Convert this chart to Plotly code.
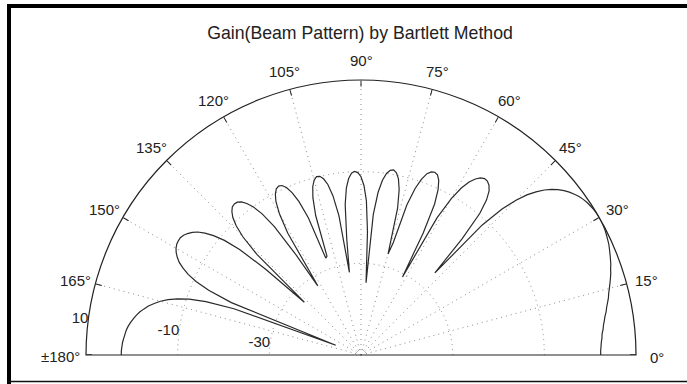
import math
import plotly.graph_objects as go

# Bartlett beam pattern, gain in dB, sampled every degree from 0 to 180
angle_deg = [
    0, 1, 2, 3, 4, 5, 6, 7, 8, 9,
    10, 11, 12, 13, 14, 15, 16, 17, 18, 19,
    20, 21, 22, 23, 24, 25, 26, 27, 28, 29,
    30, 31, 32, 33, 34, 35, 36, 37, 38, 39,
    40, 41, 42, 43, 44, 45, 46, 47, 48, 49,
    50, 51, 52, 53, 54, 55, 56, 57, 58, 59,
    60, 61, 62, 63, 64, 65, 66, 67, 68, 69,
    70, 71, 72, 73, 74, 75, 76, 77, 78, 79,
    80, 81, 82, 83, 84, 85, 86, 87, 88, 89,
    90, 91, 92, 93, 94, 95, 96, 97, 98, 99,
    100, 101, 102, 103, 104, 105, 106, 107, 108, 109,
    110, 111, 112, 113, 114, 115, 116, 117, 118, 119,
    120, 121, 122, 123, 124, 125, 126, 127, 128, 129,
    130, 131, 132, 133, 134, 135, 136, 137, 138, 139,
    140, 141, 142, 143, 144, 145, 146, 147, 148, 149,
    150, 151, 152, 153, 154, 155, 156, 157, 158, 159,
    160, 161, 162, 163, 164, 165, 166, 167, 168, 169,
    170, 171, 172, 173, 174, 175, 176, 177, 178, 179,
    180,
]

gain_db = [
    2.3, 2.3, 2.4, 2.5, 2.7, 2.8, 3.1, 3.3, 3.6, 3.9,
    4.3, 4.6, 5.0, 5.4, 5.7, 6.1, 6.5, 6.9, 7.3, 7.6,
    8.0, 8.3, 8.6, 8.9, 9.2, 9.4, 9.6, 9.8, 9.9, 10.0,
    10.0, 10.0, 9.9, 9.7, 9.5, 9.2, 8.8, 8.3, 7.7, 7.0,
    6.1, 5.1, 3.8, 2.2, 0.3, -2.3, -5.7, -11.2, -25.9, -16.4,
    -9.7, -6.5, -4.6, -3.6, -3.1, -3.0, -3.4, -4.2, -5.5, -7.5,
    -10.6, -15.8, -30.7, -20.1, -13.4, -10.2, -8.3, -7.3, -7.0, -7.2,
    -7.9, -9.4, -11.8, -15.8, -24.5, -27.2, -17.0, -13.0, -10.7, -9.5,
    -9.0, -9.2, -10.0, -11.6, -14.3, -19.2, -34.2, -23.0, -16.3, -13.0,
    -11.1, -10.2, -9.9, -10.3, -11.4, -13.4, -17.0, -24.5, -31.8, -19.2,
    -14.7, -12.1, -10.7, -10.0, -9.9, -10.5, -11.8, -14.1, -18.0, -27.2,
    -27.5, -18.0, -13.9, -11.5, -10.0, -9.2, -9.0, -9.3, -10.2, -11.7,
    -14.4, -19.0, -32.2, -23.6, -16.2, -12.4, -10.1, -8.6, -7.6, -7.1,
    -7.0, -7.2, -7.9, -9.0, -10.8, -13.6, -18.5, -33.1, -22.1, -14.9,
    -11.1, -8.6, -6.8, -5.4, -4.5, -3.8, -3.3, -3.0, -3.0, -3.1,
    -3.4, -3.9, -4.6, -5.5, -6.8, -8.4, -10.6, -13.9, -19.5, -44.1,
    -20.5, -14.2, -10.6, -8.1, -6.2, -4.7, -3.5, -2.4, -1.6, -0.8,
    -0.2, 0.3, 0.8, 1.2, 1.5, 1.7, 1.9, 2.1, 2.2, 2.3,
    2.3,
]

# angular ticks every 15 degrees
angle_ticks = [0, 15, 30, 45, 60, 75, 90, 105, 120, 135, 150, 165, 180]
angle_labels = ["0°", "15°", "30°", "45°", "60°", "75°", "90°",
                "105°", "120°", "135°", "150°", "165°", "±180°"]

# radial rings (dB)
radial_ticks = [-30, -10, 10]
radial_labels = ["-30", "-10", "10"]
radial_range = [-50, 10]

W, H = 687, 384
text_color = "#222222"
axis_color = "#222222"
grid_color = "#8a8a8a"
font_family = "Liberation Sans, Arial, sans-serif"

# polar disk: centre at (361, 355) px, radius 275 px
cx, cy, R = 361, 355, 275
r_min, r_max = radial_range
db_per_px = (r_max - r_min) / R
tick_r = r_max - 6 * db_per_px               # inside tick length 6 px
label_gap = 21                               # angle labels sit this far outside the rim
label_drop = 2                               # and this far lower
ring_label_angle = 172.5                     # ring labels run along this spoke

inner_ticks = angle_ticks[1:-1]              # spokes drawn as dotted grid
edge_ticks = [angle_ticks[0], angle_ticks[-1]]

fig = go.Figure()

# beam pattern
fig.add_trace(go.Scatterpolar(
    r=gain_db,
    theta=angle_deg,
    mode="lines",
    line=dict(color="#2a2a2a", width=1.2),
    hoverinfo="skip",
    showlegend=False,
))

# short tick marks at 0 and 180 degrees (no spoke drawn there)
tick_r_pts, tick_t_pts = [], []
for t in edge_ticks:
    tick_r_pts += [r_max, tick_r, None]
    tick_t_pts += [t, t, None]
fig.add_trace(go.Scatterpolar(
    r=tick_r_pts, theta=tick_t_pts, mode="lines",
    line=dict(color=axis_color, width=1.4),
    hoverinfo="skip", showlegend=False, cliponaxis=False,
))

# ring labels, right-aligned on each ring along one spoke
fig.add_trace(go.Scatterpolar(
    r=radial_ticks,
    theta=[ring_label_angle] * len(radial_ticks),
    mode="text",
    text=radial_labels,
    textposition="middle left",
    textfont=dict(size=15, color=text_color, family=font_family),
    hoverinfo="skip", showlegend=False, cliponaxis=False,
))

# angle labels just outside the rim
annotations = []
for t, lab in zip(angle_ticks, angle_labels):
    a = math.radians(t)
    if t == 180:
        # the wide "±180°" label ends right at the rim
        px, anchor = cx - R - 4, "right"
    else:
        px, anchor = cx + (R + label_gap) * math.cos(a), "center"
    py = cy - (R + label_gap) * math.sin(a) + label_drop
    annotations.append(dict(
        x=px / W, y=1 - py / H, xref="paper", yref="paper",
        text=lab, showarrow=False, xanchor=anchor, yanchor="middle",
        font=dict(size=15, color=text_color, family=font_family),
    ))

fig.update_layout(
    width=W,
    height=H,
    margin=dict(l=0, r=0, t=0, b=0),
    paper_bgcolor="white",
    font=dict(family=font_family, size=15, color=text_color),
    title=dict(
        text="Gain(Beam Pattern) by Bartlett Method",
        x=360 / W, xanchor="center",
        y=1 - 33 / H, yanchor="middle",
        font=dict(size=17.7, color=text_color, family=font_family),
    ),
    annotations=annotations,
    polar=dict(
        sector=[0, 180],
        domain=dict(x=[(cx - R) / W, (cx + R) / W],
                    y=[(H - cy) / H, (H - cy + R) / H]),
        bgcolor="white",
        angularaxis=dict(
            direction="counterclockwise",
            rotation=0,
            tickmode="array",
            tickvals=inner_ticks,
            showticklabels=False,
            showline=True,
            linecolor=axis_color,
            linewidth=1.2,
            showgrid=True,
            gridcolor=grid_color,
            gridwidth=1,
            griddash="1px,4px",
            ticks="inside",
            ticklen=6,
            tickcolor=axis_color,
            tickwidth=1.2,
        ),
        radialaxis=dict(
            range=radial_range,
            tickmode="array",
            tickvals=radial_ticks,
            showticklabels=False,
            showline=False,
            showgrid=True,
            gridcolor=grid_color,
            gridwidth=1,
            griddash="1px,4px",
            ticks="",
        ),
    ),
    shapes=[
        # window frame: heavy top and left edges, thin bottom edge
        dict(type="rect", xref="paper", yref="paper",
             x0=7 / W, x1=1, y0=1 - 8 / H, y1=1 - 4 / H,
             fillcolor="black", line=dict(width=0)),
        dict(type="rect", xref="paper", yref="paper",
             x0=7 / W, x1=11 / W, y0=0, y1=1 - 4 / H,
             fillcolor="black", line=dict(width=0)),
        dict(type="line", xref="paper", yref="paper",
             x0=7 / W, x1=1, y0=1 - 381.5 / H, y1=1 - 381.5 / H,
             line=dict(color="#111111", width=1.5)),
    ],
)

fig.write_html("out.html")
